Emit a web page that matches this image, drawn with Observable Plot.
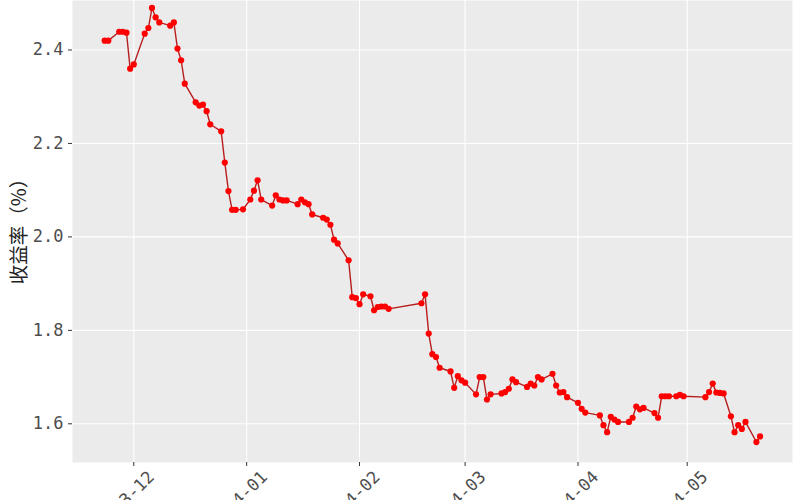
<!DOCTYPE html>
<html>
<head>
<meta charset="utf-8">
<script src="https://cdn.jsdelivr.net/npm/d3@7"></script>
<script src="https://cdn.jsdelivr.net/npm/@observablehq/plot@0.6"></script>
<style>
  html, body { margin: 0; padding: 0; background: white; overflow: hidden; }
  #chart svg { display: block; }
  g[aria-label="y-axis tick label"] {
    font-family: "DejaVu Sans Mono", monospace; font-size: 17px; fill: #4d4d4d;
  }
  g[aria-label="x-axis tick"], g[aria-label="y-axis tick"] { stroke: #333333; }
</style>
</head>
<body>
<div id="chart"></div>
<script>
const dates = [
  "2023-11-23","2023-11-24","2023-11-27","2023-11-28","2023-11-29","2023-11-30",
  "2023-12-01","2023-12-04","2023-12-05","2023-12-06","2023-12-07","2023-12-08","2023-12-11","2023-12-12","2023-12-13","2023-12-14","2023-12-15","2023-12-18","2023-12-19","2023-12-20","2023-12-21","2023-12-22","2023-12-25","2023-12-26","2023-12-27","2023-12-28","2023-12-29","2023-12-31",
  "2024-01-02","2024-01-03","2024-01-04","2024-01-05","2024-01-08","2024-01-09","2024-01-10","2024-01-11","2024-01-12","2024-01-15","2024-01-16","2024-01-17","2024-01-18","2024-01-19","2024-01-22","2024-01-23","2024-01-24","2024-01-25","2024-01-26","2024-01-29","2024-01-30","2024-01-31",
  "2024-02-01","2024-02-02","2024-02-04","2024-02-05","2024-02-06","2024-02-07","2024-02-08","2024-02-09","2024-02-18","2024-02-19","2024-02-20","2024-02-21","2024-02-22","2024-02-23","2024-02-26","2024-02-27","2024-02-28","2024-02-29",
  "2024-03-01","2024-03-04","2024-03-05","2024-03-06","2024-03-07","2024-03-08","2024-03-11","2024-03-12","2024-03-13","2024-03-14","2024-03-15","2024-03-18","2024-03-19","2024-03-20","2024-03-21","2024-03-22","2024-03-25","2024-03-26","2024-03-27","2024-03-28","2024-03-29",
  "2024-04-01","2024-04-02","2024-04-03","2024-04-07","2024-04-08","2024-04-09","2024-04-10","2024-04-11","2024-04-12","2024-04-15","2024-04-16","2024-04-17","2024-04-18","2024-04-19","2024-04-22","2024-04-23","2024-04-24","2024-04-25","2024-04-26","2024-04-28","2024-04-29","2024-04-30",
  "2024-05-06","2024-05-07","2024-05-08","2024-05-09","2024-05-10","2024-05-11","2024-05-13","2024-05-14","2024-05-15","2024-05-16","2024-05-17","2024-05-20","2024-05-21"
];
const yields = [
  2.420,2.420,2.439,2.439,2.437,2.360,
  2.369,2.435,2.447,2.490,2.470,2.459,2.452,2.459,2.403,2.378,2.328,2.288,2.281,2.283,2.269,2.241,2.226,2.159,2.098,2.058,2.058,2.059,
  2.080,2.099,2.121,2.080,2.067,2.089,2.080,2.078,2.078,2.070,2.080,2.074,2.070,2.048,2.041,2.037,2.026,1.994,1.986,1.950,1.871,1.869,
  1.856,1.877,1.873,1.843,1.850,1.851,1.851,1.846,1.858,1.877,1.793,1.749,1.743,1.720,1.712,1.677,1.702,1.693,
  1.688,1.663,1.700,1.700,1.652,1.663,1.665,1.668,1.675,1.695,1.689,1.679,1.686,1.682,1.700,1.695,1.707,1.682,1.667,1.668,1.657,
  1.645,1.632,1.624,1.618,1.597,1.582,1.615,1.609,1.604,1.604,1.613,1.637,1.631,1.634,1.623,1.613,1.659,1.659,1.659,1.659,1.662,1.659,
  1.657,1.668,1.686,1.667,1.666,1.665,1.616,1.582,1.597,1.589,1.604,1.561,1.573
];
const monthTicks = ["2023-12-01","2024-01-01","2024-02-01","2024-03-01","2024-04-01","2024-05-01"];
const yTicks = [1.6, 1.8, 2.0, 2.2, 2.4];
const yLabel = "收益率（%）";

const data = dates.map((d, i) => ({date: new Date(d), value: yields[i]}));
const xTickDates = monthTicks.map(d => new Date(d));
const fmtMonth = d3.utcFormat("%Y-%m");

const chart = Plot.plot({
  width: 800,
  height: 500,
  marginTop: 0,
  marginRight: 8,
  marginBottom: 38,
  marginLeft: 72,
  style: {background: "white", fontFamily: "'Noto Sans CJK SC', sans-serif", overflow: "hidden"},
  x: {type: "utc", domain: [new Date("2023-11-14T04:00:00Z"), new Date("2024-05-29T22:00:00Z")]},
  y: {domain: [1.5172, 2.5059]},
  marks: [
    Plot.frame({fill: "#EBEBEB", stroke: null}),
    Plot.gridX(xTickDates, {stroke: "white", strokeOpacity: 1, strokeWidth: 1.1}),
    Plot.gridY(yTicks, {stroke: "white", strokeOpacity: 1, strokeWidth: 1.1}),
    Plot.axisY(yTicks, {tickSize: 4, tickPadding: 5, tickFormat: d3.format(".1f"), label: null}),
    Plot.axisX(xTickDates, {tickSize: 4, tickFormat: () => "", label: null}),
    Plot.text(xTickDates, {
      x: d => d, text: d => fmtMonth(d), frameAnchor: "bottom",
      dx: 13, dy: 7, rotate: -45, textAnchor: "end", lineAnchor: "top",
      fontSize: 17, fontFamily: "'DejaVu Sans Mono', monospace", fill: "#4d4d4d"
    }),
    Plot.line(data, {x: "date", y: "value", stroke: "#b81e1e", strokeWidth: 1.4}),
    Plot.dot(data, {x: "date", y: "value", r: 3.1, fill: "#ff0000", stroke: null}),
    Plot.text([yLabel], {frameAnchor: "left", dx: -53, dy: -5, rotate: -90, textAnchor: "middle", lineAnchor: "middle", fontSize: 19.5, fill: "#222222", fontFamily: "'Noto Sans CJK SC', sans-serif"})
  ]
});
document.getElementById("chart").appendChild(chart);
</script>
</body>
</html>
